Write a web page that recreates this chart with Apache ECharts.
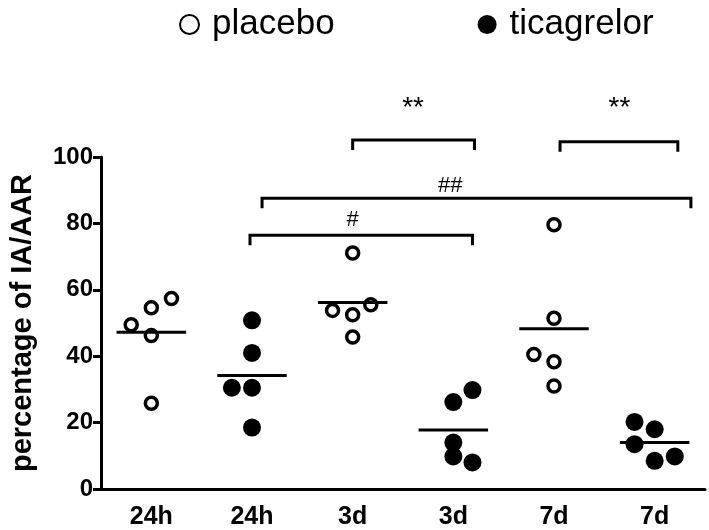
<!DOCTYPE html>
<html>
<head>
<meta charset="utf-8">
<script src="https://cdn.jsdelivr.net/npm/echarts@6/dist/echarts.min.js"></script>
<style>html,body{margin:0;padding:0;background:#fff}#c{width:709px;height:530px}</style>
</head>
<body>
<div id="c"></div>
<script>
// ---- data ----
const categories = ['24h', '24h', '3d', '3d', '7d', '7d'];
const yTicks = [0, 20, 40, 60, 80, 100];

const placebo24h    = [49.5, 54.6, 57.4, 46.2, 25.8];
const ticagrelor24h = [50.8, 41.0, 30.5, 30.5, 18.5];
const placebo3d     = [71.1, 55.5, 53.8, 52.5, 45.8];
const ticagrelor3d  = [29.8, 26.2, 14.0, 9.8, 8.0];
const placebo7d     = [79.6, 51.4, 40.5, 38.3, 31.0];
const ticagrelor7d  = [20.2, 18.0, 13.5, 8.5, 9.8];

// horizontal scatter offset of each dot within its column (in category units)
const jitter24hP = [-0.2, 0, 0.2, 0, 0];
const jitter24hT = [0, 0, -0.2, 0, 0];
const jitter3dP  = [0, 0.18, -0.2, 0, 0];
const jitter3dT  = [0.19, 0, 0, 0, 0.19];
const jitter7dP  = [0, 0, -0.2, 0, 0];
const jitter7dT  = [-0.2, 0, -0.2, 0, 0.2];

const groupMeans = [47.2, 34.2, 56.2, 17.8, 48.3, 14.0];

// significance brackets
const bracketFrom  = [2.0, 4.06, 1.1, 0.98];
const bracketTo    = [3.21, 5.23, 5.36, 3.19];
const bracketLevel = [105.1, 104.6, 87.6, 76.4];
const sigText  = ['**', '**', '##', '#'];
const sigX     = [2.6, 4.65, 2.97, 2.0];
const sigY     = [114.7, 114.7, 91.3, 81.0];
const sigSize  = [28, 28, 22, 22];

// ---- build ----
function pts(vals, jit, idx) { return vals.map((v, k) => [idx + jit[k], v]); }
const placeboData = [].concat(pts(placebo24h, jitter24hP, 0), pts(placebo3d, jitter3dP, 2), pts(placebo7d, jitter7dP, 4));
const ticaData = [].concat(pts(ticagrelor24h, jitter24hT, 1), pts(ticagrelor3d, jitter3dT, 3), pts(ticagrelor7d, jitter7dT, 5));

const FONT = 'Liberation Sans, Arial, sans-serif';
const chart = echarts.init(document.getElementById('c'), null, {renderer: 'canvas'});

chart.setOption({
  animation: false,
  backgroundColor: '#fff',
  textStyle: {fontFamily: FONT},
  legend: {
    top: 2, left: 174,
    itemWidth: 19, itemHeight: 19, itemGap: 143,
    icon: 'circle',
    textStyle: {fontSize: 35, color: '#000', fontFamily: FONT, padding: [0, 0, 0, 8]},
    data: ['placebo', 'ticagrelor']
  },
  grid: {left: 101, right: 4, top: 157, bottom: 40, containLabel: false},
  xAxis: [
    {
      type: 'category', data: categories.map((c, i) => String(i)), boundaryGap: true,
      axisLine: {onZero: false, lineStyle: {color: '#000', width: 3}},
      axisTick: {alignWithLabel: true, length: 8, lineStyle: {color: '#000', width: 3}},
      axisLabel: {formatter: (v, i) => categories[i], fontSize: 25, fontWeight: 'bold', color: '#000', margin: 16, fontFamily: FONT},
      splitLine: {show: false}
    },
    {type: 'value', min: -0.5, max: 5.5, show: false}
  ],
  yAxis: {
    type: 'value', min: 0, max: 100, interval: 20,
    name: 'percentage of IA/AAR', nameLocation: 'middle', nameGap: 64,
    nameTextStyle: {fontSize: 29, fontWeight: 'bold', color: '#000', fontFamily: FONT},
    axisLine: {show: true, onZero: false, lineStyle: {color: '#000', width: 3}},
    axisTick: {show: true, length: 8, lineStyle: {color: '#000', width: 3}},
    axisLabel: {fontSize: 24, fontWeight: 'bold', color: '#000', margin: 8, fontFamily: FONT,
      formatter: v => yTicks.indexOf(v) >= 0 ? String(v) : ''},
    splitLine: {show: false}
  },
  series: [
    {
      name: 'placebo', type: 'scatter', xAxisIndex: 1, data: placeboData,
      symbol: 'circle', symbolSize: 12,
      itemStyle: {color: '#fff', borderColor: '#000', borderWidth: 3.5, opacity: 1},
      z: 5
    },
    {
      name: 'ticagrelor', type: 'scatter', xAxisIndex: 1, data: ticaData,
      symbol: 'circle', symbolSize: 18,
      itemStyle: {color: '#000', opacity: 1},
      z: 4
    },
    {
      type: 'custom', xAxisIndex: 1, clip: false, silent: true, z: 6,
      data: groupMeans.map((m, i) => [i, m]),
      renderItem: (params, api) => {
        const i = api.value(0), m = api.value(1);
        const a = api.coord([i - 0.345, m]), b = api.coord([i + 0.345, m]);
        return {type: 'line', shape: {x1: a[0], y1: a[1], x2: b[0], y2: b[1]},
          style: {stroke: '#000', lineWidth: 3}};
      }
    },
    {
      type: 'custom', xAxisIndex: 1, clip: false, silent: true, z: 6,
      data: bracketLevel.map((y, k) => [bracketFrom[k], bracketTo[k], y]),
      renderItem: (params, api) => {
        const x0 = api.value(0), x1 = api.value(1), y = api.value(2);
        const drop = 3;
        const p = [[x0, y - drop], [x0, y], [x1, y], [x1, y - drop]].map(q => api.coord(q));
        return {type: 'polyline', shape: {points: p},
          style: {stroke: '#000', lineWidth: 3, fill: null, lineJoin: 'miter'}};
      }
    },
    {
      type: 'custom', xAxisIndex: 1, clip: false, silent: true, z: 6,
      data: sigText.map((t, k) => [sigX[k], sigY[k], k]),
      renderItem: (params, api) => {
        const k = api.value(2);
        const c = api.coord([api.value(0), api.value(1)]);
        return {type: 'text', x: c[0], y: c[1],
          style: {text: sigText[k], fontSize: sigSize[k], fontFamily: FONT, fill: '#000',
            textAlign: 'center', textVerticalAlign: 'middle'}};
      }
    }
  ]
});
</script>
</body>
</html>
